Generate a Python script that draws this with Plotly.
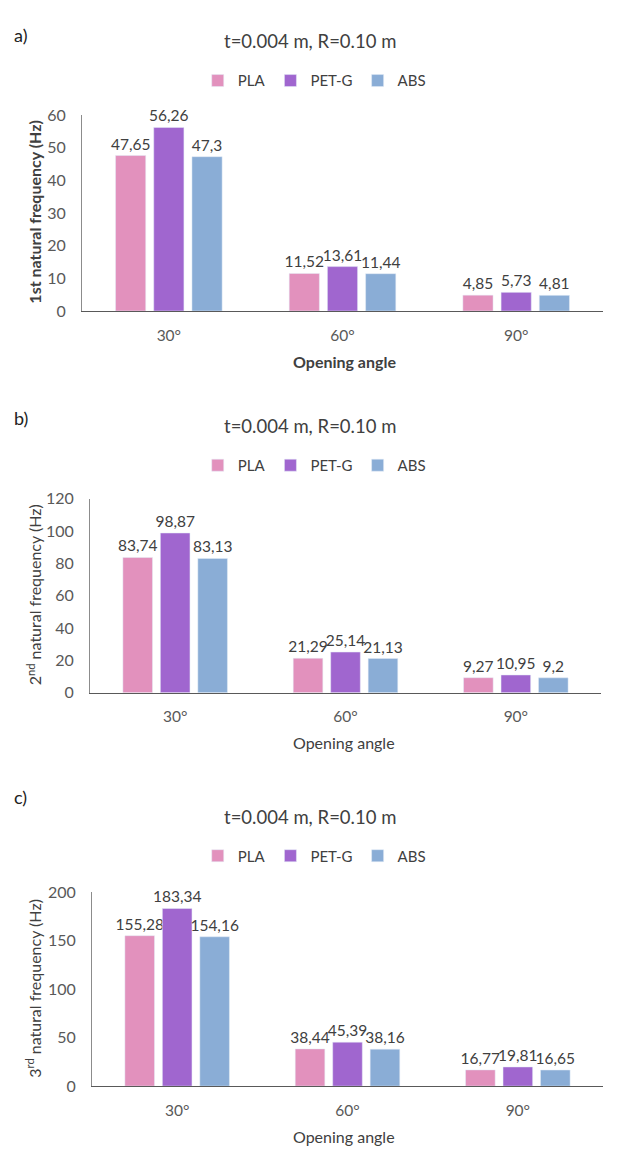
import plotly.graph_objects as go

angles = ["30°", "60°", "90°"]
materials = ["PLA", "PET-G", "ABS"]
colors = {"PLA": "#E291BD", "PET-G": "#A066CF", "ABS": "#8AADD6"}

f1 = {"PLA": [47.65, 11.52, 4.85], "PET-G": [56.26, 13.61, 5.73], "ABS": [47.3, 11.44, 4.81]}
f2 = {"PLA": [83.74, 21.29, 9.27], "PET-G": [98.87, 25.14, 10.95], "ABS": [83.13, 21.13, 9.2]}
f3 = {"PLA": [155.28, 38.44, 16.77], "PET-G": [183.34, 45.39, 19.81], "ABS": [154.16, 38.16, 16.65]}

panel_letters = ["a)", "b)", "c)"]
panel_title = "t=0.004 m, R=0.10 m"
y_titles = ["<b>1st natural frequency (Hz)</b>",
            "2<sup>nd</sup> natural frequency (Hz)",
            "3<sup>rd</sup> natural frequency (Hz)"]
x_titles = ["<b>Opening angle</b>", "Opening angle", "Opening angle"]
y_ranges = [[0, 60], [0, 120], [0, 200]]
y_dticks = [10, 20, 50]

W, H = 621, 1164
FONT = "Lato, 'Open Sans', sans-serif"
TICKC = "#595959"
TXTC = "#404040"

# pixel layout of each panel (layout only)
panels = [
    dict(x0=82, x1=603, ytop=107, ybot=306, letter_y=25, title_y=32, legend_y=72, ytitle_x=35, ytitle_y=205, xtitle_y=357),
    dict(x0=90, x1=601, ytop=497, ybot=694, letter_y=415, title_y=423, legend_y=463, ytitle_x=34, ytitle_y=595, xtitle_y=745),
    dict(x0=92, x1=603, ytop=897, ybot=1094, letter_y=800, title_y=820, legend_y=860, ytitle_x=34, ytitle_y=995, xtitle_y=1145),
]

def fmt(v):
    return ("%g" % v).replace(".", ",")

fig = go.Figure()
datasets = [f1, f2, f3]
annotations = []
layout = {}
for i, (data, p) in enumerate(zip(datasets, panels)):
    k = "" if i == 0 else str(i + 1)
    leg = "legend" if i == 0 else "legend%d" % (i + 1)
    for m in materials:
        fig.add_trace(go.Bar(
            x=angles, y=data[m], name=m, marker_color=colors[m],
            xaxis="x" + k, yaxis="y" + k, legend=leg,
            text=[fmt(v) for v in data[m]], textposition="outside",
            textfont=dict(family=FONT, size=15.5, color=TXTC),
            constraintext="none", cliponaxis=False, showlegend=True,
        ))
    layout["xaxis" + k] = dict(
        domain=[p["x0"] / W, p["x1"] / W], anchor="y" + k,
        showline=True, linecolor="#595959", linewidth=1.3,
        ticks="", showgrid=False, zeroline=False,
        tickfont=dict(family=FONT, size=15.5, color=TICKC),
        ticklabelstandoff=10, fixedrange=True,
    )
    layout["yaxis" + k] = dict(
        domain=[1 - p["ybot"] / H, 1 - p["ytop"] / H], anchor="x" + k,
        range=y_ranges[i], dtick=y_dticks[i], tick0=0,
        showline=True, linecolor="#8c8c8c", linewidth=1,
        ticks="", showgrid=False, zeroline=False,
        tickfont=dict(family=FONT, size=16, color=TICKC),
        ticklabelstandoff=12, fixedrange=True,
    )
    layout[leg] = dict(
        orientation="h", x=0.506, xanchor="center",
        y=1 - p["legend_y"] / H, yanchor="middle",
        font=dict(family=FONT, size=15, color=TXTC),
        itemwidth=30, bgcolor="rgba(0,0,0,0)", tracegroupgap=0,
    )
    annotations += [
        dict(text=panel_letters[i], x=12 / W, y=1 - p["letter_y"] / H, xref="paper", yref="paper",
             xanchor="left", yanchor="middle", showarrow=False,
             font=dict(family=FONT, size=18, color="#222222")),
        dict(text=panel_title, x=310 / W, y=1 - p["title_y"] / H, xref="paper", yref="paper",
             xanchor="center", yanchor="middle", showarrow=False,
             font=dict(family=FONT, size=18.5, color=TXTC)),
        dict(text=y_titles[i], x=p["ytitle_x"] / W, y=1 - p["ytitle_y"] / H, xref="paper", yref="paper",
             xanchor="center", yanchor="middle", showarrow=False, textangle=-90,
             font=dict(family=FONT, size=16, color=TXTC)),
        dict(text=x_titles[i], x=344 / W, y=1 - p["xtitle_y"] / H, xref="paper", yref="paper",
             xanchor="center", yanchor="middle", showarrow=False,
             font=dict(family=FONT, size=16, color=TXTC)),
    ]

fig.update_layout(
    width=W, height=H, margin=dict(l=0, r=0, t=0, b=0),
    paper_bgcolor="white", plot_bgcolor="white",
    barmode="group", bargap=0.34, bargroupgap=0.21,
    annotations=annotations, **layout,
)
fig.write_html("out.html", config={"displayModeBar": False})
